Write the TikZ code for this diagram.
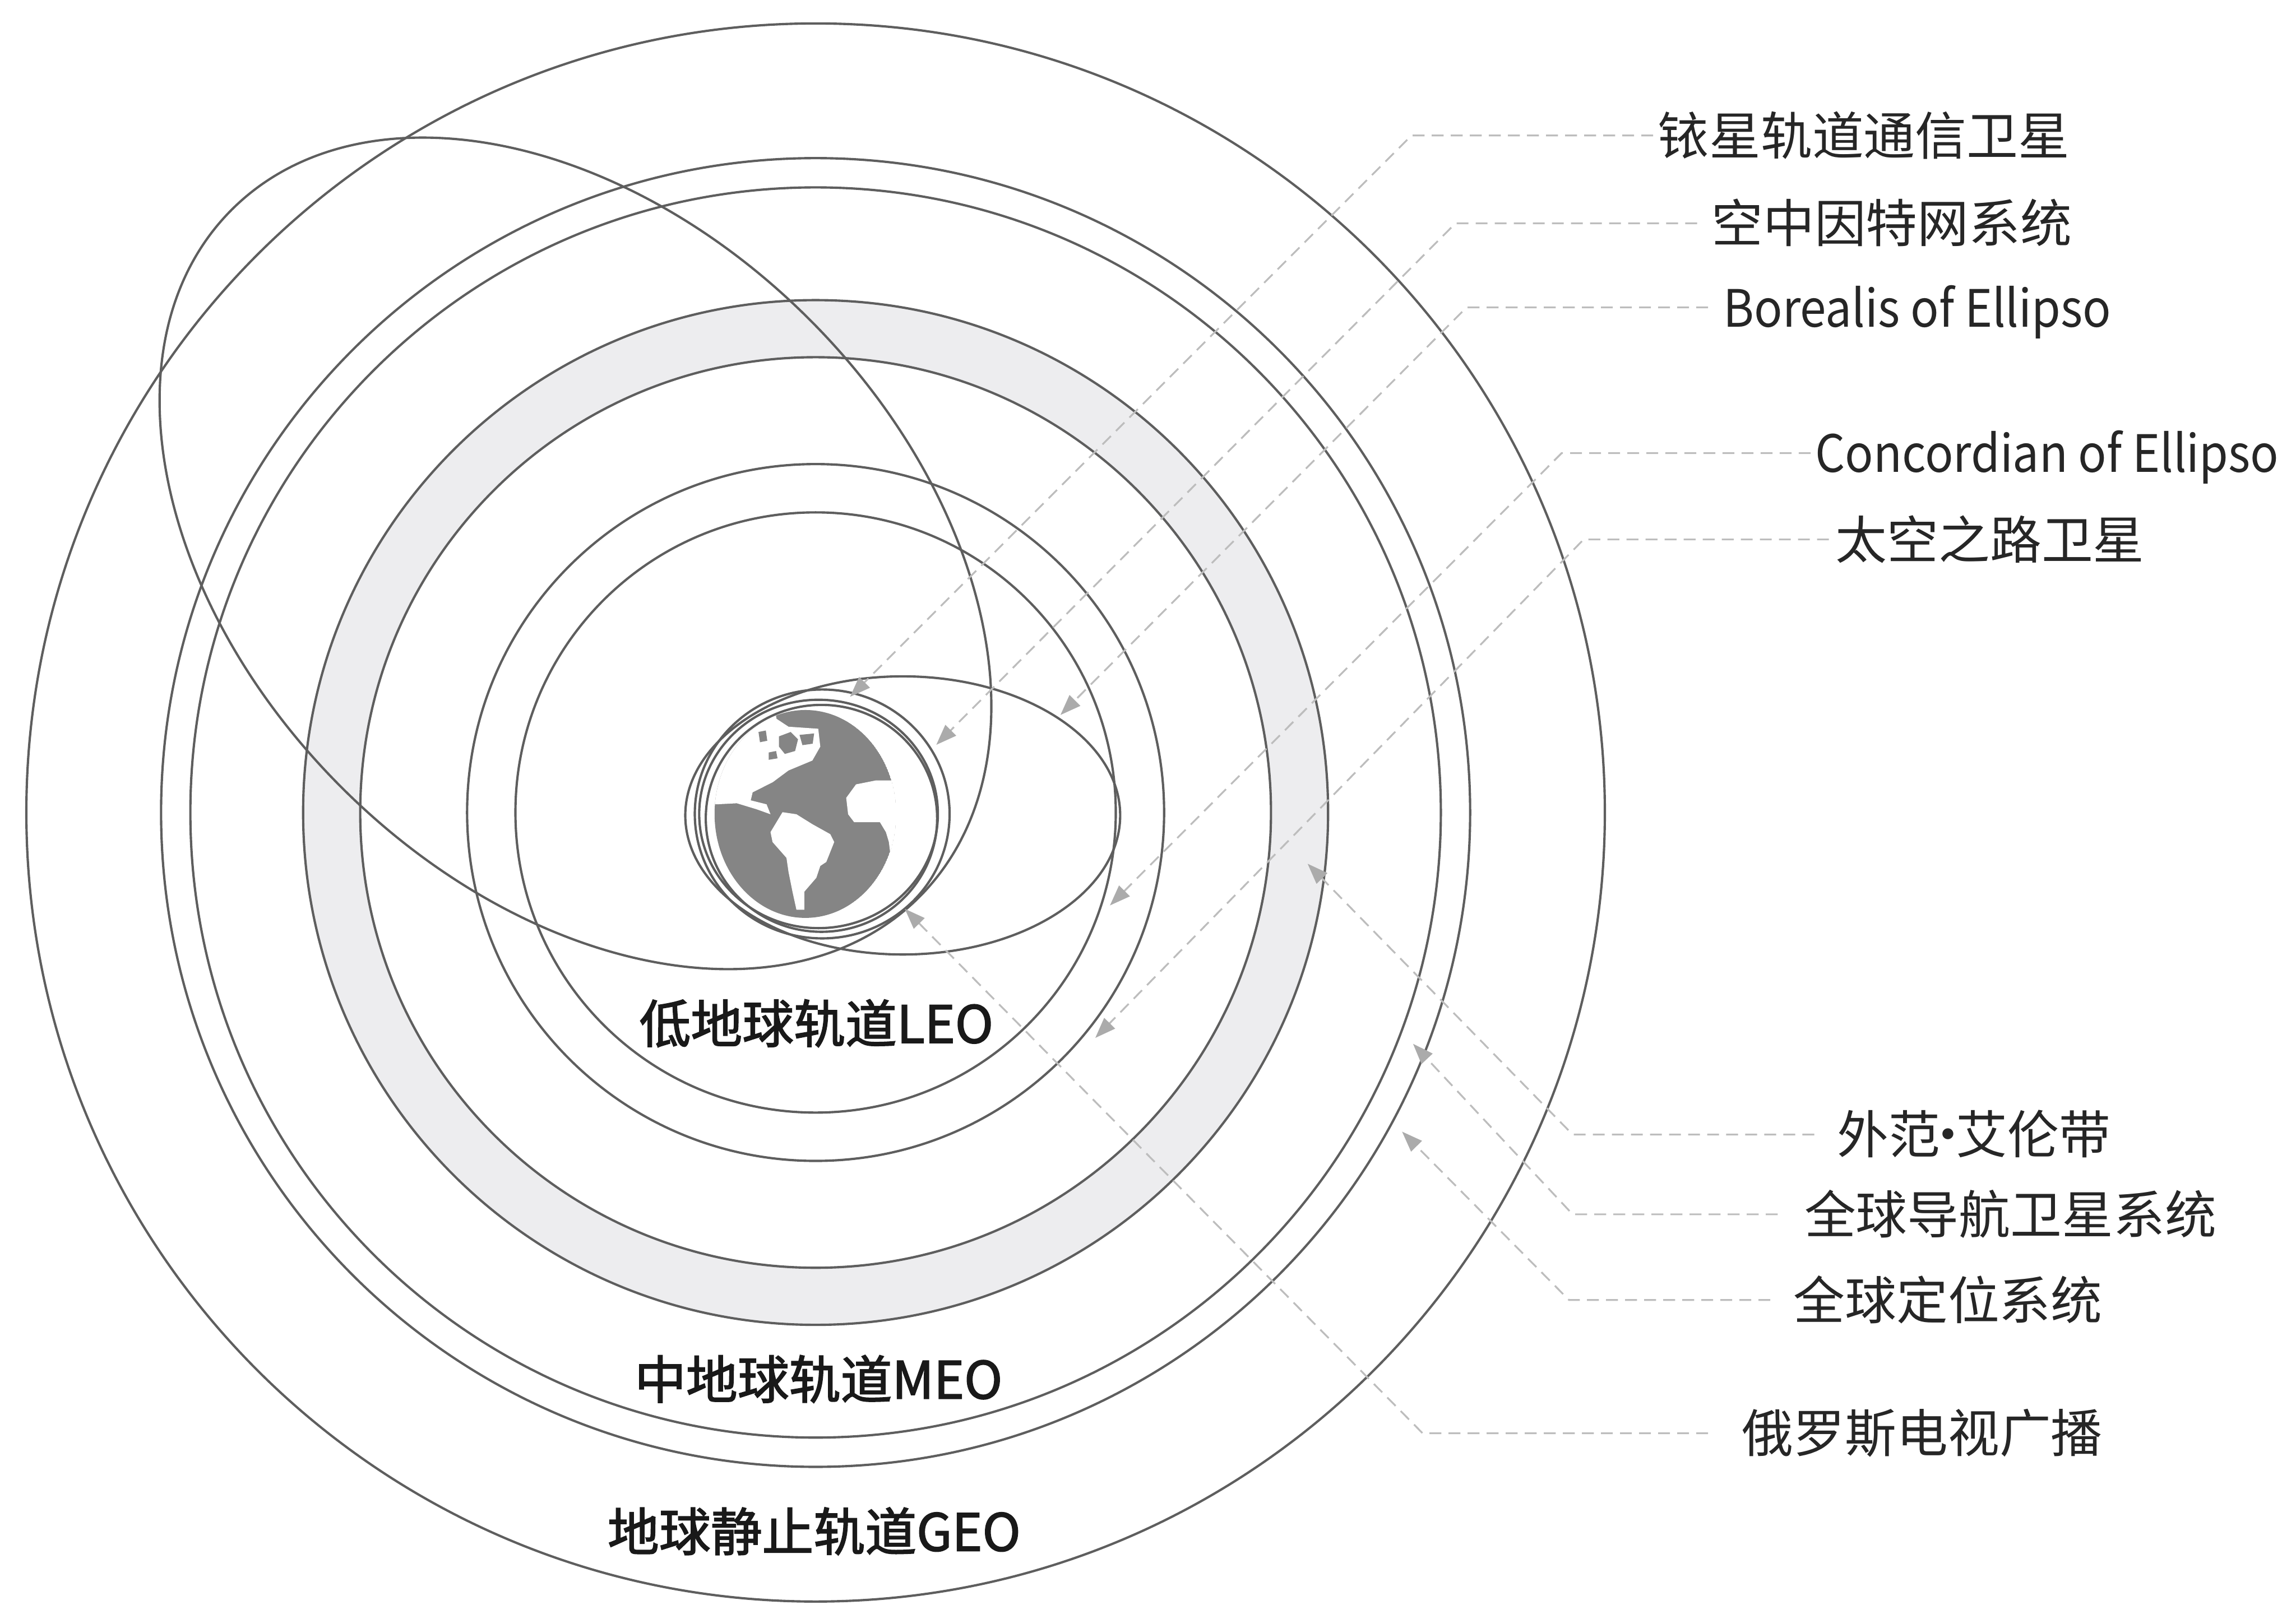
\documentclass[tikz,border=0pt]{standalone}
\usepackage{graphicx}
\usepackage{fontspec}
\setmainfont{Noto Sans CJK SC}
\newfontfamily\zonefont{Noto Sans CJK SC}[FakeBold=2]
\usetikzlibrary{arrows.meta}
\definecolor{orbit}{HTML}{5E5E5E}
\definecolor{belt}{HTML}{EDEDEF}
\definecolor{lead}{HTML}{BDBDBD}
\definecolor{leadtip}{HTML}{ABABAB}
\definecolor{earth}{HTML}{858585}
\newcommand{\narrow}[1]{\scalebox{0.91}[1]{#1}}
\begin{document}
\begin{tikzpicture}[x=0.01cm, y=-0.01cm,
  orbitline/.style={draw=orbit, line width=0.45pt},
  leader/.style={draw=lead, line width=0.35pt, dash pattern=on 2.3pt off 1.4pt,
    -{Triangle[length=4pt, width=2.9pt, fill=leadtip, color=leadtip]}},
  tag/.style={anchor=west, inner xsep=#1, inner ysep=0pt, text height=0.8em,
    text depth=0.05em, font=\fontsize{10pt}{12pt}\selectfont, text=black!85},
  tag/.default=1pt,
  zone/.style={inner sep=0pt, font=\fontsize{10pt}{12pt}\zonefont, text=black!90}]

\useasboundingbox (0,0) rectangle (1568,1096);

% common centre of the circular orbits
\coordinate (C) at (557,555);

% Van Allen belt band
\fill[belt, even odd rule] (C) circle [radius=350] (C) circle [radius=311];

% circular orbits: LEO, belt edges, MEO/GEO rings, outer GEO
\foreach \r in {205,238,311,350,427,447,539}
  \draw[orbitline] (C) circle [radius=\r];

% highly elliptical orbit (Molniya type)
\draw[orbitline, shift={(393,378)}, rotate=-45] (0,0) ellipse [x radius=332, y radius=226];

% flat elliptical orbit to the right of the Earth
\draw[orbitline] (616.5,557) ellipse [x radius=148.5, y radius=95];

% low orbits hugging the Earth
\draw[orbitline] (561.5,556) ellipse [x radius=87, y radius=85];
\draw[orbitline] (559,556) ellipse [x radius=81.5, y radius=78];
\draw[orbitline] (561,559) ellipse [x radius=79, y radius=77.5];

% the Earth
\begin{scope}
  \clip (550,556) ellipse [x radius=62, y radius=71];
  \fill[earth] (550,556) ellipse [x radius=62, y radius=71];
  % northern cap with islands
  \fill[white] (470,470) -- (528,478) -- (530.3,491) -- (538.5,496.4) -- (558.8,497.8)
    -- (560.2,510) -- (554.8,519.5) -- (538.5,526.3) -- (527.6,534.4) -- (514,541.2)
    -- (512.7,546.7) -- (523.5,549.4) -- (526.2,556.2) -- (516.7,552.8) -- (503.2,548.7)
    -- (489.6,549.4) -- (470,549.4) -- cycle;
  \fill[earth] (532,503) -- (540,500) -- (545,505) -- (543,513) -- (536,515) -- (532,510) -- cycle;
  \fill[earth] (518,500) -- (523,499) -- (524,506) -- (519,507) -- cycle;
  \fill[earth] (525,514) -- (530,513) -- (531,518) -- (525,519) -- cycle;
  \fill[earth] (546,502) -- (556,501) -- (555,508) -- (548,509) -- cycle;
  % South America
  \fill[white] (534.4,554.8) -- (543.9,556.2) -- (554.8,563) -- (567,569.8) -- (569.7,575.2)
    -- (564.3,588.8) -- (560.2,591.5) -- (557.5,599.6) -- (549.3,609.1) -- (549.3,621.4)
    -- (543.9,621.4) -- (541.2,609.1) -- (538.5,595.6) -- (537.1,586) -- (527.6,575.2)
    -- (526.2,568.4) -- (530.3,561.6) -- cycle;
  % open water towards the east
  \fill[white] (577.9,545) -- (584.6,535.8) -- (598.2,533.1) -- (625,533) -- (625,600)
    -- (609.5,595) -- (607,575) -- (605,568.4) -- (600.9,561.6) -- (583.3,561.6)
    -- (579.2,556.2) -- cycle;
  \fill[white] (603,507) -- (625,497) -- (625,520) -- (610,521) -- (603,515) -- cycle;
\end{scope}

% orbit names
\node[zone] (leo) at (557.5,699) {低地球轨道LEO};
\node[zone] (meo) at (559,942) {中地球轨道MEO};
\node[zone] (geo) at (556,1046) {地球静止轨道GEO};

% callout labels
\node[tag=0.7pt] (l1) at (1129,92.5) {铱星轨道通信卫星};
\node[tag=2.6pt] (l2) at (1159,152.5) {空中因特网系统};
\node[tag=2.8pt] (l3) at (1166.5,210) {\narrow{Borealis of Ellipso}};
\node[tag=0.7pt] (l4) at (1236.5,309.5) {\narrow{Concordian of Ellipso}};
\node[tag=1.1pt] (l5) at (1249,368.5) {太空之路卫星};
\node[tag=4.3pt] (l6) at (1239,775) {外范\makebox[0.3em]{·}艾伦带};
\node[tag=5pt]   (l7) at (1214,829.5) {全球导航卫星系统};
\node[tag=4.3pt] (l8) at (1209,888) {全球定位系统};
\node[tag=6.4pt] (l9) at (1166.5,979) {俄罗斯电视广播};

% leader bends
\coordinate (k1) at (964,92.5);
\coordinate (k2) at (994,152.5);
\coordinate (k3) at (1001.5,210);
\coordinate (k4) at (1066.5,309.5);
\coordinate (k5) at (1081.5,368.5);
\coordinate (k6) at (1074,775);
\coordinate (k7) at (1074,829.5);
\coordinate (k8) at (1071.5,888);
\coordinate (k9) at (971.5,979);

% leader targets on the orbits
\coordinate (t1) at (580.5,476);
\coordinate (t2) at (639.4,508.8);
\coordinate (t3) at (724.2,488.4);
\coordinate (t4) at (758,618.5);
\coordinate (t5) at (748,709);
\coordinate (t6) at (893,590);
\coordinate (t7) at (965,713);
\coordinate (t8) at (957.5,773);
\coordinate (t9) at (617.9,620.8);

\foreach \i in {1,...,9}
  \draw[leader] (l\i.west) -- (k\i) -- (t\i);

\end{tikzpicture}
\end{document}
